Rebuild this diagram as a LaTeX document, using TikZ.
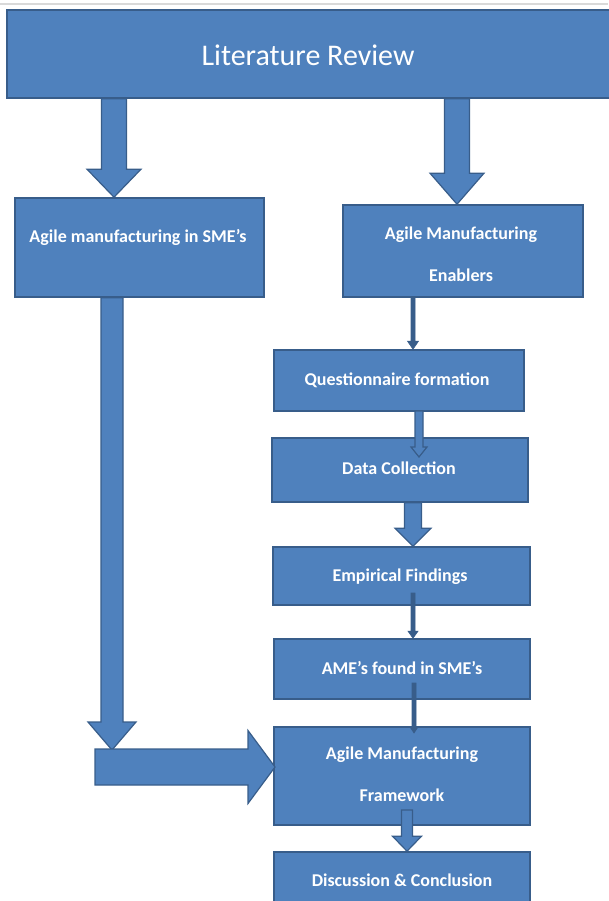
\documentclass[tikz,border=0pt]{standalone}
\usepackage{fontspec}
\setmainfont{Carlito}
\usetikzlibrary{calc}
\definecolor{boxfill}{HTML}{4F81BD}
\definecolor{boxline}{HTML}{385D8A}
\newcommand\varrow[6][arr]{%
  \filldraw[#1] let \p1=(#2), \p2=(#3) in
  (\x2-#4pt,\y1) -- (\x2-#4pt,\y2+#6pt) -- (\x2-#5pt,\y2+#6pt) -- (\x2,\y2)
  -- (\x2+#5pt,\y2+#6pt) -- (\x2+#4pt,\y2+#6pt) -- (\x2+#4pt,\y1) -- cycle;}
\newcommand\harrow[5]{%
  \filldraw[arr] let \p1=(#1), \p2=(#2) in
  (\x1,\y2+#3pt) -- (\x2-#5pt,\y2+#3pt) -- (\x2-#5pt,\y2+#4pt) -- (\x2,\y2)
  -- (\x2-#5pt,\y2-#4pt) -- (\x2-#5pt,\y2-#3pt) -- (\x1,\y2-#3pt) -- cycle;}
\begin{document}
\begin{tikzpicture}[x=1pt,y=-1pt,
  box/.style={draw=boxline, line width=1.6pt, fill=boxfill, inner sep=0pt},
  txt/.style={text=white, inner sep=0pt, font=\bfseries\fontsize{18}{21}\selectfont},
  bigtxt/.style={text=white, inner sep=0pt, font=\fontsize{30}{34}\selectfont},
  arr/.style={draw=boxline, line width=1.2pt, fill=boxfill, line join=miter},
  thinarr/.style={draw=boxline, line width=0.6pt, fill=boxline, line join=miter}]
\useasboundingbox (0,0) rectangle (608,901);
\draw[black!15, line width=2pt] (0,4) -- (608,4);
% boxes
\node[box, minimum width=612pt, minimum height=88pt] (lit) at (313,54) {};
\node[box, minimum width=249pt, minimum height=99pt] (left) at (139.5,247.5) {};
\node[box, minimum width=240pt, minimum height=92pt] (enab) at (463,251) {};
\node[box, minimum width=250pt, minimum height=61pt] (ques) at (399,380.5) {};
\node[box, minimum width=256pt, minimum height=64pt] (data) at (400,470) {};
\node[box, minimum width=257pt, minimum height=58pt] (emp) at (401.5,576) {};
\node[box, minimum width=256pt, minimum height=60pt] (ame) at (402,669) {};
\node[box, minimum width=256pt, minimum height=98pt] (frame) at (402,776) {};
\node[box, minimum width=256pt, minimum height=63pt] (disc) at (402,883.5) {};
% texts
\node[bigtxt] (tlit) at (308,55) {Literature Review};
\node[txt] (tleft) at (138,237) {Agile manufacturing in SME’s};
\node[txt] (tenab1) at (461,235) {Agile Manufacturing};
\node[txt] (tenab2) at (461,275) {Enablers};
\node[txt] (tques) at (397,380) {Questionnaire formation};
\node[txt] (tdata) at (399,468) {Data Collection};
\node[txt] (temp) at (400,577) {Empirical Findings};
\node[txt] (tame) at (402,668) {AME’s found in SME’s};
\node[txt] (tframe1) at (402,755) {Agile Manufacturing};
\node[txt] (tframe2) at (402,795) {Framework};
\node[txt] (tdisc) at (402,880) {Discussion \& Conclusion};
% connector end points
\coordinate (c2s) at (419,411);
\coordinate (c2e) at (419,457);
\coordinate (c4s) at (413,593);
\coordinate (c5s) at (414,683);
\coordinate (c5e) at (414,733);
\coordinate (c6s) at (407,810);
\coordinate (bend) at (112,750);
\coordinate (hs) at (95,767);
\coordinate (he) at (275,767);
% block arrows
\varrow{lit.south -| 114,0}{left.north -| 114,0}{12.5}{27}{28}
\varrow{lit.south -| 457,0}{enab.north -| 457,0}{12.5}{27}{31}
\varrow{left.south -| 112,0}{bend}{11}{24}{28}
\harrow{hs}{he}{18}{36.5}{27}
\varrow[thinarr]{enab.south -| 413,0}{ques.north -| 413,0}{2}{5.5}{8}
\varrow{c2s}{c2e}{4}{8}{10}
\varrow{data.south -| 413,0}{emp.north -| 413,0}{8.5}{18}{18}
\varrow[thinarr]{c4s}{ame.north -| 413,0}{2}{5}{7}
\varrow[thinarr]{c5s}{c5e}{2}{4}{6}
\varrow{c6s}{disc.north -| 407,0}{5.5}{14.5}{15}
\end{tikzpicture}
\end{document}
